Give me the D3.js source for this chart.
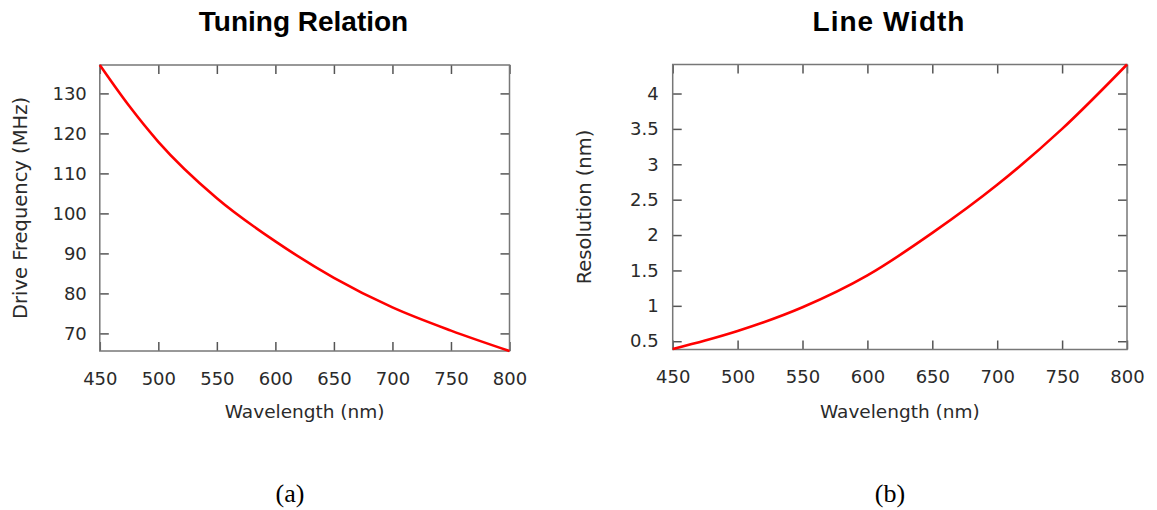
<!DOCTYPE html>
<html>
<head>
<meta charset="utf-8">
<script src="https://cdn.jsdelivr.net/npm/d3@7"></script>
<style>
  body { margin: 0; background: #fff; }
  svg { display: block; }
</style>
</head>
<body>
<svg id="chart" width="1157" height="510"></svg>
<script>

// data
const wavelength = [450, 475, 500, 550, 600, 650, 700, 750, 800];
const drive_freq = [137.1, 126.9, 117.9, 103.8, 93.0, 83.9, 76.5, 70.7, 65.6];
const resolution = [0.39, 0.51, 0.645, 0.98, 1.43, 2.03, 2.71, 3.50, 4.41];

// tick labels
const wave_ticks = [450, 500, 550, 600, 650, 700, 750, 800];
const freq_ticks = [70, 80, 90, 100, 110, 120, 130];
const res_ticks  = [0.5, 1, 1.5, 2, 2.5, 3, 3.5, 4];

function draw_panel(svg, opt){

    let g = svg.append("g");

    // x position scale
    let x = d3.scaleLinear()
              .domain([450, 800])
              .range([opt.left, opt.right]);

    // y position scale
    let y = d3.scaleLinear()
              .domain(opt.y_domain)
              .range([opt.bottom, opt.top]);

    let w = opt.right - opt.left,
        h = opt.bottom - opt.top;

    // bottom axis with labels, ticks pointing inward
    g.append("g")
        .attr("transform", "translate(0," + opt.bottom + ")")
        .call(d3.axisBottom(x).tickValues(wave_ticks).tickSize(-9).tickPadding(21))
        .call(a => a.select(".domain").remove());

    // top axis, ticks only
    g.append("g")
        .attr("transform", "translate(0," + opt.top + ")")
        .call(d3.axisTop(x).tickValues(wave_ticks).tickSize(-9).tickFormat(""))
        .call(a => a.select(".domain").remove());

    // left axis with labels
    g.append("g")
        .attr("transform", "translate(" + opt.left + ",0)")
        .call(d3.axisLeft(y).tickValues(opt.y_ticks).tickSize(-9).tickPadding(opt.pad)
                .tickFormat(d3.format("~g")))
        .call(a => a.select(".domain").remove());

    // right axis, ticks only
    g.append("g")
        .attr("transform", "translate(" + opt.right + ",0)")
        .call(d3.axisRight(y).tickValues(opt.y_ticks).tickSize(-9).tickFormat(""))
        .call(a => a.select(".domain").remove());

    g.selectAll(".tick line")
        .attr("stroke", "#555")
        .attr("stroke-width", 1.5);

    g.selectAll(".tick text")
        .attr("fill", "#2a2a2a")
        .style("font-family", "'DejaVu Sans', Verdana, sans-serif")
        .style("font-size", "18px");

    // frame
    g.append("rect")
        .attr("x", opt.left)
        .attr("y", opt.top)
        .attr("width", w)
        .attr("height", h)
        .attr("fill", "none")
        .attr("stroke", "#777")
        .attr("stroke-width", 1.5);

    // curve
    let line = d3.line()
        .x(function(d){ return x(d[0]); })
        .y(function(d){ return y(d[1]); })
        .curve(d3.curveMonotoneX);

    g.append("path")
        .datum(d3.zip(wavelength, opt.values))
        .attr("d", line)
        .attr("fill", "none")
        .attr("stroke", "#ff0000")
        .attr("stroke-width", 2.6);

    // title
    g.append("text")
        .attr("x", opt.title_x)
        .attr("y", 31)
        .attr("text-anchor", "middle")
        .style("font-family", "'Liberation Sans', Arial, sans-serif")
        .style("font-weight", "bold")
        .style("font-size", "28px")
        .style("letter-spacing", opt.title_sp)
        .attr("fill", "#000")
        .text(opt.title);

    // x axis title
    g.append("text")
        .attr("x", (opt.left + opt.right) / 2)
        .attr("y", 418)
        .attr("text-anchor", "middle")
        .style("font-family", "'DejaVu Sans', Verdana, sans-serif")
        .style("font-size", "18.5px")
        .attr("fill", "#2a2a2a")
        .text("Wavelength (nm)");

    // y axis title
    g.append("text")
        .attr("transform", "translate(" + opt.ylab_x + "," + (opt.top + opt.bottom) / 2 + ") rotate(-90)")
        .attr("text-anchor", "middle")
        .style("font-family", "'DejaVu Sans', Verdana, sans-serif")
        .style("font-size", "19.5px")
        .attr("fill", "#2a2a2a")
        .text(opt.y_label);

    // caption
    g.append("text")
        .attr("x", opt.cap_x)
        .attr("y", 502)
        .attr("text-anchor", "middle")
        .style("font-family", "'Liberation Serif', 'Times New Roman', serif")
        .style("font-size", "26px")
        .attr("fill", "#000")
        .text(opt.caption);

    return { x_scale : x, y_scale : y };
}

let svg = d3.select("#chart");

draw_panel(svg, {
    left : 99.8, right : 509.5, top : 65, bottom : 351,
    y_domain : [65.6, 137.1],
    y_ticks : freq_ticks,
    values : drive_freq,
    pad : 13,
    title : "Tuning Relation",
    title_x : 303.5,
    title_sp : "0px",
    y_label : "Drive Frequency (MHz)",
    ylab_x : 26.5,
    caption : "(a)",
    cap_x : 290
});

draw_panel(svg, {
    left : 672.7, right : 1127, top : 64.5, bottom : 349.5,
    y_domain : [0.383, 4.41],
    y_ticks : res_ticks,
    values : resolution,
    pad : 14,
    title : "Line Width",
    title_x : 889,
    title_sp : "1px",
    y_label : "Resolution (nm)",
    ylab_x : 591,
    caption : "(b)",
    cap_x : 890
});

</script>
</body>
</html>
